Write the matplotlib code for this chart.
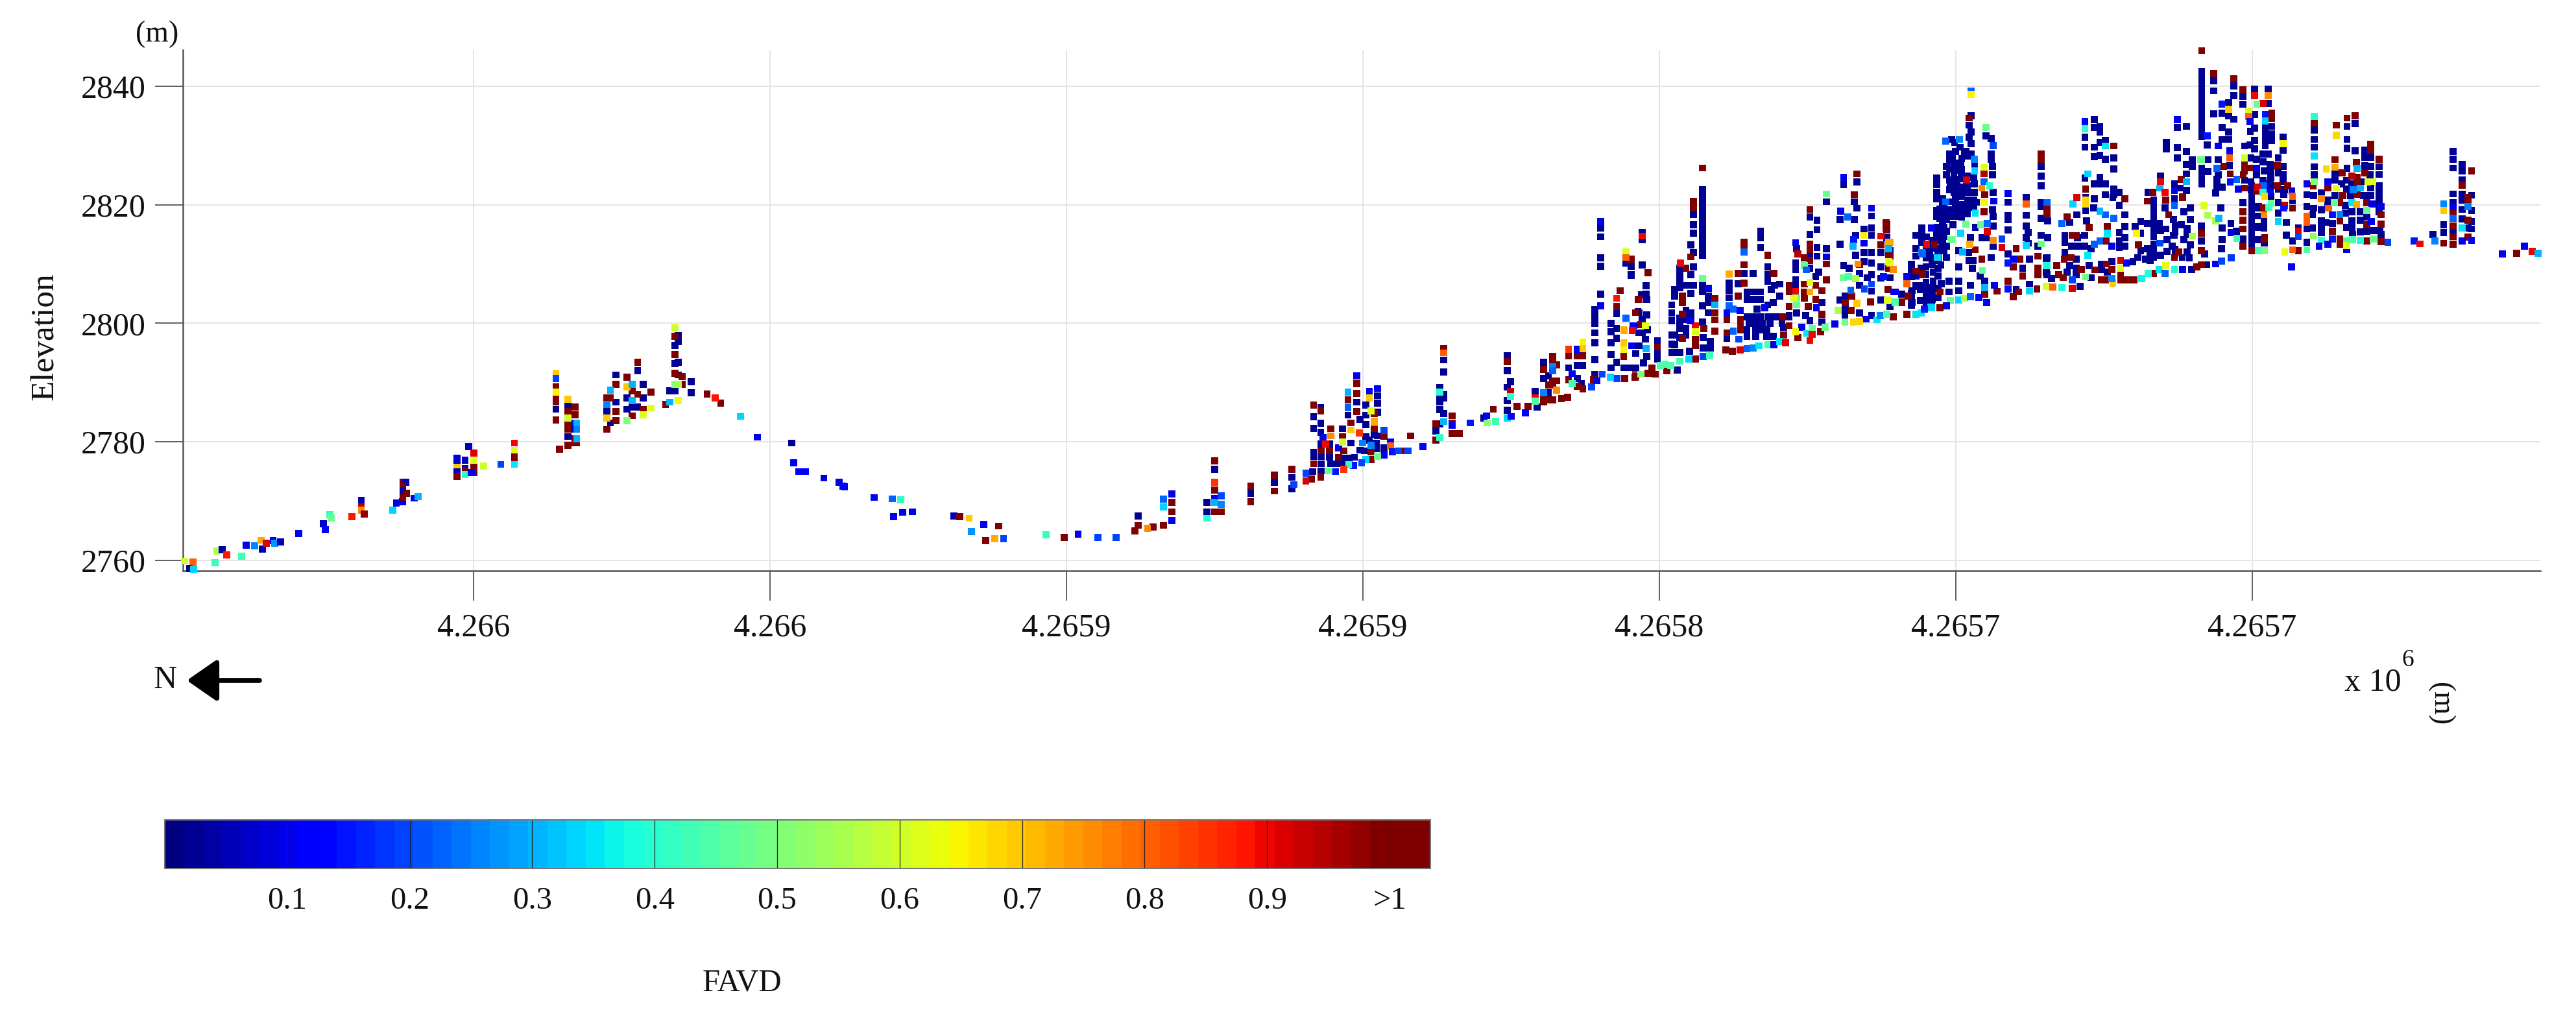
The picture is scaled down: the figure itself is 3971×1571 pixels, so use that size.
# encoding: utf-8
import numpy as np
import matplotlib
matplotlib.use('Agg')
import matplotlib.pyplot as plt

plt.rcParams['font.family'] = ['Liberation Serif', 'DejaVu Serif']

# distance along the transect from its north end (m), elevation (m), FAVD
dist_north = [0.3, 1.7, 1.1, 1.8, 5.4, 5.7, 6.6, 7.4, 9.9, 10.7, 12.1, 13.2, 13.4, 14.1, 15.2, 15.5, 16.5, 19.5, 23.7, 24, 24.8, 25, 28.5,
              30.1, 30.1, 30.1, 30.6, 35.4, 36, 37, 37.1, 37.6, 37.1, 37.1, 37.7, 37.1, 39, 39.7,
              46.2, 46.2, 46.2, 46.2, 46.2, 47.6, 47.6, 47.6, 47.6, 48.2, 49.1, 49.1, 49.1, 49.1, 48.6, 50.7, 53.6, 55.9, 55.9, 55.9, 55.9, 55.9]
elev_north = [2759.9, 2759.7, 2758.6, 2758.5, 2759.6, 2761.6, 2761.8, 2760.9, 2760.7, 2762.6, 2762.5, 2763.4, 2761.9, 2762.9, 2763.3, 2762.9, 2763.1, 2764.5, 2766.2, 2765.2, 2767.7, 2767.2, 2767.4,
              2770.1, 2769, 2768.5, 2767.8, 2768.5, 2769.7, 2769.9, 2773.2, 2773.2, 2772.5, 2771.7, 2771.3, 2770.6, 2770.5, 2770.8,
              2777.2, 2776.3, 2775.7, 2774.9, 2774.2, 2776.9, 2775.5, 2775.2, 2774.5, 2779.2, 2778.1, 2776.8, 2775.7, 2774.8, 2774.8, 2775.9, 2776.2, 2779.8, 2778.6, 2777.5, 2776.5, 2776.2]
favd_north = [.6, .8, .02, .33, .42, .55, .04, .88, .43, .1, .25, .72, .05, .92, .1, .28, .05, .1, .07, .12, .42, .47, .88,
              .05, .95, .75, .98, .33, .08, .1, 1.05, .05, 1.05, .05, 1.05, 1.05, .1, .3,
              .08, .05, .7, .05, 1.05, .05, .05, 1.05, .4, .05, .92, .62, 1.05, 1.05, .1, .6, .2, .9, .62, 1.05, 1.05, .35]

dist_valley = [111.6, 116.6, 119.6, 121.1, 119.9, 121.4, 123, 130, 131, 132.6, 133, 135.1, 137.6, 135.4, 136.9, 138.4, 145.6, 148.6, 151, 154.3, 157.4]
elev_valley = [2772.4, 2770.6, 2770.4, 2770.2, 2767.4, 2768.1, 2768.2, 2767.5, 2767.4, 2767.1, 2764.9, 2766.1, 2765.8, 2763.3, 2763.7, 2763.7, 2764.3, 2763.9, 2764.4, 2763.9, 2763.9]
favd_valley = [.1, .1, .22, .42, .1, .1, .1, .05, 1.05, .7, .28, .1, 1.05, 1.05, .72, .2, .42, 1.05, .1, .2, .2]

# stands of very low FAVD: distance, then the elevations read at that distance
low_stands = [
    (62.9, 2785.5), (64.9, 2786.3, 2780.9), (66.1, 2782.1), (71.5, 2785.1), (72.1, 2783.2), (73, 2791.3, 2786.7), (74.9, 2787.4, 2785.5), (75.8, 2785.9), (76.7, 2792, 2785.9),
    (77.6, 2789.7, 2787.4), (82.1, 2788.6), (83, 2796.3, 2793.2, 2788.6), (83.5, 2797.9, 2796.9, 2793.4, 2791.3), (85.7, 2790.1, 2788.3), (102.7, 2779.8),
    (161.1, 2767.5), (172.7, 2769.8, 2768.2), (174, 2775.4), (180.1, 2771.3), (184.1, 2773.2), (187, 2774, 2772.1),
    (190.7, 2784.2, 2782.3, 2778.2, 2777.6), (191.9, 2785.8, 2783.1, 2781.6), (192, 2779.6, 2777.6, 2776.3, 2775.1), (190.5, 2775), (193.4, 2779.6, 2777.4), (193.6, 2776.3), (194.7, 2776.3),
    (195.6, 2782.2), (195.8, 2776.3), (196, 2777.2), (196.5, 2784.5), (196.7, 2777.2), (197, 2779.8), (197.6, 2777.4), (198, 2786.7), (198.5, 2783.8, 2778.6), (199.3, 2778.5),
    (199.5, 2786.2, 2784.5, 2782.9, 2780.9), (200.1, 2780.3), (200.9, 2781.3), (201.3, 2779.8, 2778.9), (201.5, 2787.8, 2786.5, 2785, 2781), (202.6, 2779),
    (212.6, 2793.8, 2791.8, 2788, 2787.4, 2784.8), (212, 2789.2, 2787.8, 2786.7, 2785.4, 2783), (211.3, 2781.8), (219.4, 2784), (223.4, 2794.5, 2792, 2789.2, 2787, 2785.3), (223.9, 2790.1),
    (228.4, 2785.9), (228.1, 2788.5), (229.5, 2793.4, 2790.7), (230.3, 2791.1, 2788.3), (233.7, 2792.5), (235.2, 2792.9, 2790.7), (236.1, 2792.9), (235.9, 2789.8),
    (238.1, 2802.3, 2801.1, 2800, 2798.4, 2796.7, 2793.9, 2791.4), (239.1, 2816.1, 2814.6, 2811, 2809.6, 2804.9), (240.9, 2800, 2798.6, 2796.7, 2794.7, 2792.5), (241.8, 2801.6, 2799.1, 2797.5, 2793.4),
    (243, 2792.5), (243.4, 2810.1), (244.3, 2809.7, 2809.6, 2808.2, 2808.1), (245.6, 2801.8, 2798.4, 2796.2), (244.5, 2796.2), (245, 2794.9), (244, 2792.5),
    (246.1, 2815.3, 2814.1, 2809.8, 2800.7, 2798.4), (246.8, 2806.3, 2804.9), (246, 2804.8), (246.9, 2804, 2801.4, 2794.4), (245.4, 2802), (244.7, 2799.6), (247, 2798.9), (246.7, 2797.3),
    (245.6, 2796.2), (245, 2792.4), (246.3, 2793.3), (248.7, 2797.1, 2795.1, 2794), (252, 2792.1), (251.1, 2803.1, 2801.7, 2800.4, 2798, 2796.5, 2795.1), (251.6, 2805.7, 2804.6, 2798, 2796.4, 2795.1),
    (252.5, 2809.3, 2808.2, 2807.1, 2806, 2800.9, 2799.8, 2799.1, 2797.6, 2795.1), (253.5, 2806.4, 2802.2, 2801.7, 2800.6, 2799.1, 2798), (254.3, 2813.2, 2808.2, 2806.4, 2805, 2801.7, 2800.6),
    (254.8, 2818.3, 2816.6, 2815.2, 2811.9, 2809.5, 2806.4),
    (256.3, 2822.5, 2821.4, 2820.3, 2819.2, 2818.1, 2817, 2815.9, 2814.8, 2813.7, 2812.6, 2811.5, 2806.4, 2805.3, 2802.9, 2800.2),
    (257.3, 2804.6, 2803.5, 2801.8), (256.4, 2797.6, 2795.8), (257.6, 2796.9, 2795.8), (254.1, 2795.3),
    (260.8, 2806.8, 2805.6, 2804.3), (260.4, 2797.5), (262.3, 2806.7), (263.3, 2808.4), (264.8, 2808.4, 2805.3), (263.8, 2805.2, 2804, 2801.1, 2798.9, 2797.8), (266, 2805.3, 2804, 2801.1, 2798.9),
    (264.9, 2804, 2801.1), (266.1, 2815.5, 2814.4, 2812.8), (267.3, 2809.5, 2808.2, 2807.1, 2803.1, 2801.1), (268.4, 2806.4, 2801.1), (269.3, 2806.6, 2804.6), (267.9, 2805.7), (268.2, 2803.5, 2797.8),
    (265.5, 2802.4), (269.5, 2801.1), (264.2, 2800), (265.3, 2800, 2798.9, 2797.8), (266.4, 2800), (267.7, 2800), (269.7, 2800), (267.1, 2798.9, 2797.8), (270.9, 2801.3), (270, 2799.3),
    (272, 2810.2, 2809.1, 2807.3, 2806.2), (272.2, 2812.6, 2801.7), (270.9, 2801.1), (274.4, 2817.9, 2815, 2811.5, 2809.3, 2800.4), (275.6, 2817.4, 2815.8, 2812.8, 2811.3), (277.2, 2812.6, 2820.5),
    (275.9, 2808.6), (275.4, 2807.9), (276.4, 2803.5, 2800.2), (273.7, 2801.3),
    (280.1, 2823.4, 2809.7), (282.3, 2823.8, 2819.4), (281.9, 2820.5, 2817.5), (279.5, 2817.5, 2813.3, 2803.9), (284.8, 2818.1, 2816.1, 2814.8, 2811.9, 2810.2, 2808.2, 2805.4, 2801.3),
    (283.5, 2815.9, 2811.9, 2810.4), (282.1, 2814.8, 2811.5), (281, 2809.3), (282.8, 2808.4, 2806.4, 2801.7), (284.1, 2807.7), (280.4, 2804.6, 2802.4), (280.3, 2801.3),
    (287.4, 2814.4), (286.4, 2811.9, 2809.5, 2807.6, 2803.9), (287.9, 2812.2, 2807.7, 2802.8), (289.9, 2804.9), (292.3, 2814.8, 2812.6, 2811.3, 2808, 2806.4), (293.3, 2816.1, 2814.8), (294.1, 2814.6),
    (293.4, 2809.3), (291.6, 2805.5, 2803.5), (293, 2805.7, 2803.8), (294.5, 2805.7), (294.9, 2803.8),
    (301.6, 2835, 2832.3, 2830.3, 2828.6), (301.3, 2833.4, 2831.4), (300.7, 2829), (302.2, 2826.6), (298.3, 2831), (298.8, 2830.5), (299.7, 2829.7), (300.5, 2829), (298.4, 2827.9), (297.4, 2826.5, 2825),
    (298.7, 2826.3, 2825, 2822.1), (299.9, 2826.8, 2825), (298.1, 2823.5), (299.2, 2823.5, 2819), (301, 2823.2, 2822.1, 2819.7), (302.1, 2823.5, 2822.1), (299.8, 2822.1), (299, 2820.6), (301.4, 2820.1),
    (302.5, 2820.4), (300.3, 2818.8), (295.8, 2824.5, 2823.4, 2822.1, 2821), (296.3, 2819.3, 2817.7), (297.4, 2817.5, 2815.5, 2813, 2811.1), (298.5, 2816.6), (295.9, 2816.2), (296.5, 2814, 2809.8),
    (294.9, 2816.1), (293.3, 2816, 2813.7), (292.3, 2812.6, 2806.2), (294.6, 2811.9), (290.8, 2807.8), (293.2, 2809.3), (295.2, 2808.6, 2807.1), (293.4, 2806.4), (297.9, 2807.1, 2805.3), (296.6, 2806.7),
    (302.3, 2816.2), (301.5, 2814.4, 2806.4), (299.5, 2812.2, 2809.5, 2807.1, 2805.5), (301.2, 2811.9, 2810.6), (301.9, 2810.6), (301.8, 2809.3), (303.1, 2808), (303.9, 2807.1), (303.4, 2814.4),
    (304.1, 2814.4, 2831.6), (305.3, 2813, 2822.1, 2818, 2816.4), (305, 2811.1, 2831.2, 2828.6, 2827.7), (305.2, 2826.5, 2825, 2819.2),
    (307.8, 2820.4, 2818.2, 2817.5, 2815.7, 2811.7), (310.9, 2821.2, 2818.2, 2816.4, 2814.4), (311.2, 2815.3, 2813.5), (313.4, 2826.5, 2824.8, 2823.2, 2820.3, 2819.7, 2817.7, 2814.8), (314.5, 2817.3, 2814.4),
    (312.9, 2813), (314.4, 2811, 2808.2), (311.4, 2806.6, 2810.8), (310.3, 2809.3), (309.2, 2805.7),
    (320, 2806.2), (314.3, 2810.9, 2808.6), (315.2, 2807.5), (321.8, 2807.7, 2812.6), (323.6, 2810, 2809), (324.6, 2808.6), (325.3, 2810.4), (328.9, 2810.4), (338.8, 2809.1), (341.3, 2809.9), (321.5, 2809.7),
    (319.3, 2810.8, 2809.3, 2808.2), (318.2, 2809.7, 2817), (317.8, 2808.6), (317.4, 2814.8, 2813.7, 2811.9), (318.5, 2813), (319.6, 2813), (320.7, 2813, 2814.8), (319.5, 2814.4),
    (326.6, 2815.3, 2813.9, 2812.8, 2819.9), (327.5, 2816.3, 2814.4, 2813, 2818.3), (322.3, 2819.5), (319.4, 2818.3), (320.9, 2819, 2821.2), (321.1, 2817.3), (325.5, 2821.2),
    (332.4, 2820.8, 2819.7, 2818.6, 2817.7, 2816.8, 2815.7, 2814.6, 2813.3, 2812.2, 2811.1), (331.3, 2816.8, 2812.6), (333.3, 2816.8), (330.2, 2817.2, 2815.2, 2812.2), (329.3, 2816.3), (329.7, 2811.1), (331, 2810.8),
    (335.9, 2821, 2814.8), (334.3, 2819.5), (335.7, 2817.5, 2814.8), (337.5, 2818.8, 2814.1), (338.6, 2819.5, 2817.5, 2813.2), (337, 2816.6), (334.4, 2815.9), (334.6, 2814.1, 2812.1), (335.5, 2813),
    (337.2, 2811.1), (338.4, 2811), (340.4, 2816.4, 2813.9), (341, 2811.7), (343.9, 2816.1, 2814.1), (343.8, 2812.6), (343.7, 2819.5), (345.4, 2816.8), (346.3, 2815.5), (347.4, 2820.3, 2814.2),
    (350, 2819.5, 2818.1, 2816.3), (351, 2816.1, 2817.3, 2813.5),
    (348.9, 2823.2, 2822.1, 2821, 2819.9, 2818.8, 2817.7, 2816.6, 2815.5, 2814.4, 2813.7, 2812.7),
    (340.5, 2842.5, 2841.4, 2840.3, 2839.2, 2838.1, 2837, 2835.9, 2834.8, 2833.7, 2832.6, 2831.5, 2826.1, 2825, 2823.5),
    (342.5, 2840.9, 2839.2, 2835.3), (345.9, 2840, 2838.4, 2834.4), (347.4, 2838.3, 2836.9), (349.4, 2839.5, 2835.2, 2832.9, 2830.8, 2829.4), (345, 2837.2, 2835, 2832.3, 2831),
    (343.9, 2835.4, 2833, 2831, 2823), (348.7, 2832.4), (341.4, 2830.1), (347.7, 2829.9, 2824.1), (348.6, 2830.1), (348.8, 2827.9, 2823.9, 2822.5), (341.5, 2827.6, 2825.6), (343.3, 2827.6, 2825),
    (345.2, 2826.6), (343.1, 2824.3, 2823.2), (342.8, 2822),
    (351.7, 2839.5, 2837.1, 2828.5), (352.3, 2833.2, 2831.9, 2830.8), (351.2, 2832.9, 2831.9, 2830.8, 2829.9), (354.2, 2831.4, 2829.2, 2826.5, 2825, 2823.9), (350.8, 2828.5, 2827.2, 2824.1), (349.7, 2827.7, 2825),
    (353.4, 2827.9, 2825.4, 2822.6, 2820.3, 2818.6), (352, 2826.8, 2823.5), (351, 2825.7, 2816.1), (352.1, 2825.7, 2824.6, 2821.4), (354.5, 2822.5), (354.3, 2821.7), (355.8, 2820.6, 2813.9),
    (350.1, 2819.7, 2818.1, 2816.2), (354.8, 2817, 2814.9), (350, 2814.1), (351.1, 2813.5), (356.8, 2816.1), (358.2, 2821.7, 2819.7, 2815.9, 2813.7), (359.4, 2821.5, 2819.4), (359.2, 2818.3, 2816.1),
    (359.5, 2832.6, 2831, 2829.7, 2826.4, 2825), (360.7, 2822, 2819.1, 2817.3, 2816.2, 2815.3), (361.9, 2820.8), (361.8, 2820.1), (361.5, 2817), (362.5, 2816.8), (363, 2825.2, 2824.1, 2821.5),
    (365, 2833.2, 2831, 2829.5, 2826.1), (366.4, 2833.7, 2829.1), (368, 2829.2, 2828, 2826.6), (369, 2828, 2826.5, 2822.8, 2821.5), (368.9, 2825), (370.4, 2826.4, 2825.1, 2823.2, 2822.1, 2821, 2819.9, 2818.8),
    (367.8, 2823.9, 2821.5), (364.9, 2824.1, 2822.6, 2816.2), (364.1, 2823.5), (365.8, 2823.5, 2818.8, 2817.3, 2816.2), (365.6, 2821.5), (364.7, 2819.9, 2818.6), (367.2, 2818.8, 2817.4, 2815.4),
    (368.3, 2817.9, 2815.5), (369.4, 2815.6), (370.5, 2815.6), (370.7, 2815), (365.9, 2815),
    (379.5, 2815), (381.3, 2816.6, 2815.3), (382.9, 2829, 2827.7, 2826.2, 2821.8, 2820.3, 2815.5), (384.4, 2826.8, 2825.7, 2824.2, 2821.8, 2820.8, 2819.2, 2817.6), (386, 2821.6, 2819, 2817.2, 2815.9),
    (385.4, 2816.1),
]

# upper towers between the 4.2657 ticks and the packed navy core around the first of them
low_towers = [
    (320.8, 2831.4, 2829.7, 2824.5), (322.4, 2834.3, 2833, 2829.7, 2828.1, 2823.5, 2821), (323.3, 2833.2, 2832.3, 2830.5, 2828.3, 2824.6, 2823.5), (324.2, 2830.8, 2827.7, 2823.5, 2821.7),
    (325.7, 2827.9, 2826, 2822.6, 2821.7), (326.6, 2822.1), (334.5, 2830.5, 2829.4), (336.4, 2833, 2829.6, 2827.9), (337.9, 2833.2, 2829, 2826.8, 2825.2, 2822.4), (338.9, 2827.6, 2826.5),
    (333.5, 2824.8), (335.9, 2823.5, 2820.8), (331.5, 2822.1), (336.8, 2822.8), (340.5, 2826.1, 2824.3),
    (298, 2828.5, 2827.3, 2826, 2824.2, 2822.5, 2820.5, 2819.2, 2818), (299, 2829, 2827, 2825.8, 2824.3, 2822.8, 2821.5, 2819.8, 2818), (300, 2827.8, 2825.9, 2824.4, 2823, 2821.4, 2820, 2817.9),
    (301, 2828.2, 2824.8, 2820.8, 2818.5), (302, 2824.6, 2820.8, 2819.6), (296.8, 2821, 2820, 2818.7, 2817.2, 2816, 2814.9, 2813.5, 2812.4), (295.8, 2819, 2818, 2815.2, 2814, 2812.7),
    (297, 2819.5, 2818.4, 2816.2, 2814.6, 2812.2), (294, 2812.5, 2811, 2809.5, 2808.2, 2806.9, 2805.5, 2804.5, 2803.5), (295, 2814, 2812.9, 2811, 2809.9, 2806, 2805, 2804),
    (296, 2811.8, 2810.6, 2809.3, 2808, 2805.9, 2804.3), (291.5, 2810, 2809, 2807.9, 2805, 2804.2, 2803), (338, 2816, 2815, 2812), (336, 2816.5, 2815.5, 2812.5, 2811.7), (333.5, 2815.6, 2811.5),
    (331.8, 2811.7, 2810.6),
]

# stands with FAVD above the colour scale
high_stands = [
    (62.9, 2789.3, 2787.2, 2786.7, 2783.7), (63.5, 2778.8), (64.9, 2785.1, 2782.8, 2782.1, 2779.4), (66.1, 2785.9, 2784.6, 2780.5, 2779.8), (66.4, 2779.8), (71.5, 2787.4, 2782.1), (72.1, 2787.4),
    (73, 2789.7, 2785.1, 2783.6), (74.9, 2790.9), (75.8, 2788.6, 2784.4), (76.7, 2793.4, 2788), (77.6, 2785.5), (78.9, 2788.4), (81.4, 2786.3), (83, 2797.8, 2794.7, 2791.6), (84.2, 2791, 2789.7),
    (88.4, 2788.1), (90.7, 2786.5),
    (160.6, 2765), (161.1, 2765.9), (163.6, 2765.6), (165.4, 2765.9), (166.8, 2769.8, 2768.2), (174, 2776.8, 2771.9, 2768.2), (175.1, 2768.2), (180.1, 2772.5, 2769.9), (184.1, 2774.4, 2771.7), (187, 2775.4),
    (190.7, 2786.2, 2776.3), (191.9, 2785.2, 2774.1), (192, 2778.5), (193.6, 2782.2), (193.4, 2778.5), (194.9, 2777.4), (195.6, 2780.9), (195.8, 2778.5), (196.5, 2787.1), (197, 2783.2),
    (198, 2789.8, 2788.2, 2785.1), (200.4, 2778.3, 2777), (200.9, 2784.8, 2782.2), (202.6, 2780.9), (205.7, 2778.5), (207.1, 2781), (190.3, 2773.7),
    (211.3, 2783, 2780.3), (212.6, 2795.7), (214.1, 2784.4, 2783.2, 2781.4), (215.3, 2781.4), (221, 2785.5), (223.4, 2793.5), (225, 2786), (226.9, 2786), (229.5, 2792.2, 2787.2, 2786.7),
    (230.3, 2789.6, 2787.1), (231, 2794.4, 2793.4, 2790.3, 2789.6, 2787.1), (231.7, 2793, 2790.3), (232.5, 2787.3), (233.5, 2787.5), (233.7, 2794.5, 2790.5), (235.2, 2794.5, 2789.4),
    (236.1, 2794.5, 2788.9), (237.9, 2790.5), (242.4, 2805.5), (241.8, 2802.8), (244.3, 2810.8, 2810.7), (243, 2796.7, 2794.4), (245.6, 2804), (245, 2791.1),
    (247.1, 2808.5, 2791.6), (245.5, 2804), (245, 2801.8), (245.9, 2799.8), (248.7, 2796), (247.8, 2792.5), (248.3, 2791.4), (244.9, 2790.9), (243.2, 2790.7), (250.3, 2792),
    (252.9, 2804.6, 2803.5, 2801.5, 2797.5), (253.5, 2809.3), (254.3, 2811.2), (254.8, 2820.6, 2819.5), (256.3, 2826.2), (258.4, 2804.2, 2801.8, 2800.6, 2798.7), (256.5, 2799.1), (255.1, 2797.3, 2796.2, 2794),
    (260.4, 2800.6, 2798.4), (260.2, 2795.5), (261.3, 2795.3), (262.3, 2808.4, 2804.6), (263.3, 2813.7, 2812.8, 2809.9, 2806.8), (267.3, 2811.5), (268.3, 2808.4), (262.7, 2800.7, 2800, 2798.9),
    (269.9, 2801.1), (270.9, 2799.6, 2806.4, 2805.3, 2802.8), (270, 2798), (272.4, 2797.6), (274.4, 2819.2, 2813.3, 2812.4, 2810.6), (273.5, 2811, 2806.6, 2805.3, 2804.2), (277.2, 2810, 2807.3),
    (275.4, 2806.4, 2804), (276.4, 2805.5, 2801.5), (274.1, 2802.8), (276.2, 2798.6),
    (282.3, 2825.2), (281.9, 2821.7), (282.8, 2809.9), (281.5, 2804.6), (280.4, 2803.5), (284.6, 2803.6), (281.4, 2802.2),
    (287.4, 2816.6, 2815.7), (286.4, 2813.2), (287.9, 2811.3, 2809.3), (287.6, 2805.7), (288.5, 2801.1), (290.8, 2806.8, 2801.5), (291, 2804.6, 2804.6), (289.9, 2803.5, 2803.6), (293.4, 2808.4, 2808.2),
    (301.3, 2834.6), (287.3, 2817, 2816.1), (295.4, 2813.3), (292.3, 2808.8), (296.3, 2805.3, 2802.6), (287.7, 2811.5, 2809.3), (302.3, 2812.4), (303.4, 2810.8), (303.9, 2821.7, 2804.9), (303.8, 2818.8),
    (306, 2805.4), (313.4, 2828.6, 2827.7), (314.4, 2819.3, 2818.4), (312.9, 2811.3, 2809.3, 2808.2), (312.7, 2805.8), (308.7, 2809.5, 2804.5), (309.8, 2810.8), (309.2, 2812.6), (310.3, 2808),
    (307.8, 2807.1), (309.6, 2805.3),
    (339.7, 2809.5), (340.4, 2809.9, 2815.2, 2812.2), (332.4, 2808.4), (323.6, 2807.3), (324.2, 2807.3), (326.9, 2807.3), (328, 2807.3), (329.1, 2807.3), (322.5, 2809), (324.4, 2810, 2813.9),
    (325.3, 2809.1), (326.8, 2808.4), (320.2, 2809.1), (318.4, 2811.1), (317.3, 2810.8), (316.4, 2808.2), (316, 2809.7), (317.1, 2807.7), (318.7, 2814.8), (319.3, 2814.8), (321.5, 2816.2), (317.8, 2817.9),
    (324.6, 2816.3), (331.3, 2820.6), (329.8, 2813.2), (334.4, 2820.8), (337.3, 2821.2), (334.9, 2818.3), (336.6, 2812), (335.9, 2811.1), (347.4, 2818.8, 2817.4, 2815.9, 2813), (348.9, 2812.2),
    (351, 2814.2), (350.9, 2819.5),
    (340.5, 2846), (342.5, 2842.1), (345.9, 2841.2), (347.4, 2839.4), (347.7, 2826.8, 2825.7, 2822.8), (348.7, 2826.2), (344.2, 2826.5), (345.3, 2825.2), (347.5, 2825),
    (352.3, 2835.4, 2834.5), (353.2, 2826.6, 2823.2), (355, 2823.2), (349.7, 2822.3), (350.9, 2819.5), (351.1, 2814.4), (355.8, 2819.4), (356.8, 2812.2), (359.3, 2823.2), (359.5, 2833.8), (361.8, 2822.8),
    (362.5, 2815.5), (363, 2827.6), (363.2, 2833.4), (364.2, 2825.4), (365, 2834.6), (366.4, 2835), (366.6, 2827.1), (366.7, 2824.6, 2823.7, 2821.7), (369, 2830.2, 2829.2), (368, 2825.4), (370.4, 2827.7),
    (364.3, 2821.5), (363.8, 2820.3, 2817.3, 2814.2, 2813.3), (368.3, 2820.3, 2816.6, 2813.9), (370.7, 2818.3, 2816.7, 2813.8), (381.3, 2813.5), (386, 2825.7), (385.4, 2821.2, 2820.4, 2817.4, 2814.5),
    (382.9, 2818.6, 2816.4, 2814.6, 2813.3), (384.4, 2823.3), (393.6, 2811.8),
    (320.9, 2822.6), (325.7, 2829.9), (327.5, 2821), (337, 2824.3), (332.2, 2822.1), (337.2, 2821.3),
]

# everything in between: distance, elevation, FAVD
mid_marks = [
    (62.9, 2791.6, .7), (62.9, 2790.7, .2), (62.9, 2788.4, .65), (64.9, 2787.2, .7), (64.9, 2784, .6), (66.1, 2783.2, .1), (66.4, 2783.2, .3), (66.4, 2782.1, .25), (66.4, 2780.5, .3), (71.5, 2786.3, .25),
    (71.5, 2784, .7), (72.1, 2788.7, .3), (74.9, 2789.3, .7), (74.9, 2783.6, .5), (75.8, 2789.7, .3), (75.8, 2787, .3), (77.6, 2784.6, .62), (78.9, 2785.7, .62), (82.1, 2786.7, .3), (83, 2799.2, .6),
    (83, 2789.7, .5), (83.5, 2789.7, .55), (83.5, 2787, .63), (89.8, 2787.4, .88), (94, 2784.3, .33), (96.9, 2780.8, .1), (103, 2776.5, .1), (103.9, 2775, .12), (105, 2775, .12), (108.1, 2773.9, .08),
    (110.7, 2773.2, .08), (111.3, 2772.5, .12),
    (162.7, 2765.4, .75), (165.4, 2770.3, .22), (165.4, 2769, .33), (166.8, 2771.2, .1), (166.8, 2766.7, .1), (172.7, 2767.1, .4), (174, 2773.2, .85), (174, 2770.5, .1), (174, 2769.8, .3), (175.1, 2770.9, .2),
    (175.1, 2769.5, .25), (187.4, 2772.8, .2),
    (192.3, 2780.7, .1), (192.7, 2779.6, .9), (193.6, 2781, .75), (194.9, 2779, .1), (195.6, 2780, .6), (196.5, 2788.4, .3), (196.5, 2785.8, .22), (197, 2782, .7), (198, 2791.1, .08), (198.4, 2781.5, .85),
    (199, 2779.8, .25), (200.1, 2788.5, .1), (200.1, 2787.4, .7), (200.4, 2785.2, .62), (200.9, 2783.5, .72), (200.4, 2779.4, .25), (201.5, 2789, .1), (202.6, 2781.9, .2), (203.7, 2780, .1), (203.7, 2779.3, .8),
    (202.6, 2777.8, .1), (201.5, 2777.6, .47), (199.5, 2777, .33), (198.8, 2776.5, .2), (197.4, 2776, .15), (196.6, 2776.1, .42), (195.8, 2775.4, .85), (194.4, 2775, .15), (193.3, 2775.1, .47),
    (189.4, 2774.7, .2), (189.4, 2773.4, .92), (204, 2778.3, .15), (205, 2778.5, .2), (206.6, 2778.5, .2), (209.1, 2779.2, .12),
    (212.6, 2795, .8), (212.6, 2783.4, .3), (212, 2788.4, .4), (212, 2780.7, .42), (214.1, 2782.8, .1), (217.1, 2783.2, .15), (219.9, 2784.4, .1), (220, 2783.2, .5), (221.4, 2783.5, .43), (223.9, 2788.5, .95),
    (223.9, 2787.6, .4), (223.4, 2784, .33), (224, 2784.3, .1), (226.4, 2784.9, .1), (228.1, 2787.4, .9), (228.1, 2786.9, .45), (229.5, 2788.3, .25), (231, 2792.7, .25), (231, 2792, .22), (231.7, 2788.7, .75),
    (233.7, 2795.6, .85), (234.3, 2791.5, .1), (234.3, 2789.8, .43), (235.2, 2795.6, .1), (236.1, 2796.8, .65), (236.1, 2795.7, .7), (237.6, 2789.3, .2), (238.5, 2790.3, .1), (239.4, 2791.4, .2),
    (239.1, 2817.2, .1), (239.1, 2802.9, .1), (243.4, 2812, .62), (243.4, 2811.1, .8), (241.8, 2804.2, .88), (243.4, 2800.9, .22), (243, 2798.9, .72), (243, 2795.6, .65), (244.6, 2799.6, .1),
    (241.8, 2790.7, .25), (244.4, 2796.2, .1),
    (244.5, 2798.8, .9), (243.1, 2798.8, .72), (243, 2796.7, .7), (246.8, 2795.7, .3), (246.7, 2799.6, .62), (246.1, 2814.7, .9), (245.9, 2791.4, .5), (241.9, 2790.7, .2), (240.8, 2790.9, .33), (249.2, 2792.9, .45),
    (250, 2793.1, .45), (250.9, 2792.9, .45), (252.5, 2793.6, .43), (254, 2794, .33), (252.6, 2810.2, .9), (256.3, 2807.5, .47), (257.3, 2805.9, .1), (258.4, 2803.1, .3), (255.1, 2799.6, .9), (255.1, 2798.6, .62),
    (256.4, 2794.4, .2), (257.5, 2794.5, .43), (254.2, 2800.4, .1),
    (260.8, 2808.3, .72), (260.8, 2802.9, .22), (261.5, 2802.4, .22), (262.6, 2802.2, .1), (260.4, 2801.7, .1), (262.6, 2795.5, .92), (263.8, 2795.7, .22), (264.8, 2795.8, .25), (265.8, 2796.2, .35),
    (267.3, 2796.4, .45), (268.3, 2796.4, .1), (269.3, 2796.9, .35), (270.3, 2796.7, .92), (263.3, 2812, .22), (266.8, 2802.6, .1), (261.5, 2798.7, .22), (262.4, 2797.3, .2),
    (272, 2813.6, .1), (272.4, 2811.7, .95), (272, 2805.4, .9), (272.2, 2804.3, .47), (271.7, 2804.2, .62), (272.2, 2803.1, .47), (273, 2799.3, .1), (272, 2798.6, .65), (273.9, 2798.3, .35), (273.5, 2809.7, .47),
    (273.8, 2809, .22), (277.2, 2811.2, .1), (274.4, 2806.9, .62), (274.4, 2805.3, .72), (275.5, 2802.6, .1), (277, 2799.3, .47), (274.8, 2799.1, .47), (274.8, 2798.1, .9), (274.4, 2797.1, .9),
    (277.2, 2821.8, .47), (278.6, 2799.9, .1),
    (280.1, 2824.6, .1), (284.8, 2819.4, .1), (279.6, 2818.9, .1), (280.8, 2817.9, .22), (283.5, 2814.8, .65), (281.8, 2814.1, .15), (283.5, 2813.5, .1), (281.7, 2813, .3), (282.5, 2810, .75), (280, 2807.7, .47),
    (280.9, 2807.9, .43), (282.1, 2807.5, .55), (284.8, 2806.6, .2), (283.6, 2805.8, .2), (281.3, 2805.6, .22), (282.3, 2803.4, .7), (279.2, 2802.2, .55), (283.9, 2800.7, .1), (285.7, 2800.6, .35),
    (286.3, 2801.3, .25), (280.3, 2800.2, .47), (281.8, 2800.2, .68), (282.8, 2800.3, .68),
    (286.4, 2814.7, .9), (287.9, 2813.7, .72), (287.9, 2810.2, .65), (286.8, 2807.9, .15), (288.5, 2809.1, .75), (287.6, 2803.9, .62), (288.8, 2805.3, .1), (288.8, 2803.5, .47), (287.4, 2801.5, .43),
    (290.8, 2807.9, .1), (294.9, 2816.1, .1), (293.3, 2811.9, .25), (294.1, 2813.3, .9), (292.3, 2801.5, .35), (293.2, 2801.7, .35), (294.9, 2802.6, .35),
    (301.6, 2839.2, .22), (301.6, 2838.6, .65), (302.1, 2827.7, .25), (302.2, 2825.7, .33), (299.6, 2831, .25), (297.3, 2830.7, .22), (300.8, 2824.2, .92), (302.3, 2818.6, .35), (297.3, 2820.5, .22),
    (293.4, 2811.7, .22), (295.9, 2811.1, .33), (290.8, 2806.7, .8), (288.6, 2805.3, .1), (288.8, 2803.6, .45), (287.5, 2803.8, .62), (298.1, 2803.8, .47), (294.8, 2802.7, .33), (297.4, 2802.9, .1),
    (293.7, 2802.4, .15), (287.7, 2813.7, .72), (287.7, 2812.6, .3), (287.7, 2810.4, .62),
    (298.3, 2814.1, .47), (299.8, 2815.2, .33), (300.7, 2816.7, .47), (303.2, 2816.6, .47), (301.4, 2813.3, .72), (300.2, 2812, .3), (303.5, 2808.9, .47), (299.5, 2803.9, .33), (300.5, 2804.2, .55),
    (301.5, 2804.5, .22), (302.9, 2804.4, .1), (304.2, 2803.5, .1), (303.9, 2806, .3), (305.5, 2806.4, .1), (304.3, 2816.8, .22), (304.3, 2815.5, .92), (305.3, 2814, .75), (306.8, 2814.2, .2), (306.8, 2812.8, .92),
    (303.8, 2826.3, .62), (303.8, 2825.2, .95), (303.8, 2823.9, .22), (304.7, 2823.2, .4), (303.4, 2822.8, .75), (303.8, 2820.4, .65),
    (304.1, 2833, .47), (305.3, 2830, .2), (305.4, 2820.6, .1), (307.8, 2821.9, .1), (310.9, 2820.1, .8), (310.9, 2813.1, .33), (314.4, 2820.4, .22), (313.4, 2813.4, .47), (314.4, 2809.7, .4), (311.4, 2805.4, .33),
    (308.7, 2810.8, .1), (307.8, 2810.2, .15), (307.8, 2805.8, .15),
    (314.3, 2806.2, .62), (315.4, 2806.1, .8), (316.9, 2806, .38), (318.7, 2805.9, .92), (318.7, 2807.3, .2), (320.9, 2807.8, .47), (314.3, 2809.7, .38), (325.5, 2806.8, .7), (325.3, 2807.5, .25),
    (326.8, 2810.6, .92), (326.8, 2809.3, .62), (330.4, 2807.5, .37), (327.8, 2810.2, .1), (331.5, 2808.4, .38), (333.3, 2809.1, .35), (334.4, 2809.7, .62), (334.3, 2808.4, .22), (335.9, 2809.1, .38),
    (337.3, 2809.1, .08), (342.8, 2810, .1), (343.8, 2810.5, .2), (345.5, 2811, .18), (325.3, 2813, .1), (323.3, 2813.9, .22), (322.4, 2813.3, .22), (321.3, 2811.5, .35), (316.9, 2816.8, .22), (324.6, 2815.2, .35),
    (325.7, 2817.7, .22), (324.2, 2818.3, .22), (323.3, 2818.9, .3), (318.8, 2820.1, .33), (319.4, 2821.2, .92), (320.9, 2820.1, .68), (329.5, 2815.2, .65), (333.4, 2813.5, .2), (340.9, 2819.9, .62),
    (341.5, 2818.2, .55), (342.8, 2817.3, .55), (343.4, 2817.7, .3), (345.4, 2815.3, .1), (346.4, 2814.3, .43), (338.9, 2814.7, .55), (335.9, 2819.9, .22), (350, 2812.2, .45), (351, 2812.2, .55), (351, 2818.3, .75),
    (349.4, 2838.4, .9), (343.9, 2837, .15), (345, 2836.1, .7), (348.4, 2835.8, .62), (348.4, 2834.9, .8), (348.6, 2834, .1), (341.4, 2831.6, .15), (343.3, 2829.9, .1), (345.2, 2829.1, .1), (347.7, 2827.9, .6),
    (340.3, 2827.6, .47), (345.2, 2827.9, .8), (343.1, 2826.1, .22), (346.4, 2824.3, .22), (345.3, 2823.8, .15), (346.7, 2822.6, .1),
    (351.7, 2838.4, .75), (350.8, 2837.1, .92), (349.8, 2836.9, .47), (351.2, 2835.2, .15), (351.2, 2834.1, .33), (354.2, 2830.3, .65), (349.7, 2826.1, .1), (350.9, 2823.2, .22), (349.9, 2823, .92),
    (350.8, 2822.1, .38), (352, 2822.3, .1), (351.1, 2821.4, .68), (355.7, 2822.3, .1), (355.8, 2821.4, .8), (354.5, 2819.9, .95), (352.2, 2820.2, .47), (351.8, 2819.6, .43), (351, 2818.3, .75), (350, 2812.2, .43),
    (351.1, 2812.2, .5), (353.4, 2817.2, .33), (354.3, 2819.4, .15), (354.5, 2812, .64), (355.6, 2809.5, .1), (356.8, 2815.5, .92), (356.8, 2814.6, .2), (355.8, 2812.4, .8), (358.2, 2823.5, .1), (358.2, 2818.1, .8),
    (358.2, 2817, .8), (358.2, 2812.4, .45), (359.3, 2814.7, .53),
    (359.5, 2834.9, .4), (359.5, 2828.2, .35), (359.5, 2823.9, .5), (360.7, 2821, .75), (361.8, 2823.9, .1), (361.9, 2819.4, .8), (362.5, 2818.3, .15), (362.5, 2814.2, .15), (360.7, 2814, .4), (360.3, 2813, .1),
    (361.8, 2813.3, .1), (361.5, 2826, .68), (363, 2826.3, .72), (363.2, 2822.8, .62), (363.2, 2831.7, .68), (365.8, 2824.8, .95), (366.7, 2826.1, .3), (368.5, 2823.8, .62), (369.3, 2823.9, .62), (366, 2822.5, .25),
    (367.2, 2822.8, .3), (362.9, 2820.3, .47), (365.8, 2820.3, .35), (366.6, 2820, .72), (369.2, 2820.1, .1), (370.7, 2819.7, .1), (368.3, 2819, .48), (363.8, 2818.4, .25), (369.1, 2817.2, .1), (364.9, 2813.9, .43),
    (365.9, 2814.1, .45), (367.2, 2814, .38), (369.4, 2814.2, .47), (371.9, 2813.7, .2), (364.9, 2812.4, .1), (364.9, 2813.1, .62),
    (376.3, 2813.9, .15), (377.3, 2813.4, .9), (379.8, 2813.9, .25), (381.3, 2820.1, .25), (381.3, 2819, .7), (382.9, 2819.7, .1), (382.9, 2817.7, .22), (384.4, 2816.1, .35), (385.4, 2819.7, .25),
    (384.4, 2813.9, .1), (386, 2814, .1), (391.2, 2811.7, .1), (394.9, 2813, .1), (396.2, 2812.1, .9), (397.2, 2811.8, .3),
    (320.8, 2834, .12), (320.8, 2832.8, .4), (321.3, 2825.2, .33), (320.9, 2820.8, .68), (324.2, 2829.9, .35), (336.4, 2834.3, .1), (337.9, 2823.9, .3), (333.5, 2823.9, .9), (333.4, 2822.8, .3),
    (335.9, 2822.4, .1), (334.3, 2822.1, .9), (340.5, 2827.6, .47),
]

favd_low = 0.03
favd_high = 1.05

x_tick_north = [4.26600, 4.26595, 4.26590, 4.26585, 4.26580, 4.26575, 4.26570]
x_tick_labels = ['4.266', '4.266', '4.2659', '4.2659', '4.2658', '4.2657', '4.2657']
y_ticks = [2760, 2780, 2800, 2820, 2840]
favd_ticks = [.1, .2, .3, .4, .5, .6, .7, .8, .9, 1]
favd_labels = ['0.1', '0.2', '0.3', '0.4', '0.5', '0.6', '0.7', '0.8', '0.9', '>1']

W, H = 3971, 1571
def fx(px):
    return px / W
def fy(py):
    return 1 - py / H

def expand(stands, value):
    d, e = [], []
    for stand in stands:
        for elevation in stand[1:]:
            d.append(stand[0])
            e.append(elevation)
    return d, e, [value] * len(d)

low_d, low_e, low_f = expand(low_stands + low_towers, favd_low)
high_d, high_e, high_f = expand(high_stands, favd_high)
mid_d, mid_e, mid_f = zip(*mid_marks)

# low first so that the rarer classes stay visible on top
dist = np.concatenate([low_d, dist_north, dist_valley, high_d, mid_d])
elev = np.concatenate([low_e, elev_north, elev_valley, high_e, mid_e])
favd = np.concatenate([low_f, favd_north, favd_valley, high_f, mid_f])
# the transect starts 49 m north of the 4.2660 tick
north = (4266049 - dist) / 1e6

cmap = plt.get_cmap('jet', 64).copy()
cmap.set_over('#7f0000')

fig = plt.figure(figsize=(W / 100, H / 100), dpi=100, facecolor='white')
ax = fig.add_axes([fx(282), fy(880), fx(3916) - fx(282), fy(77) - fy(880)])
sc = ax.scatter(north, elev, c=favd, s=60, marker='s', linewidths=0, cmap=cmap, vmin=0, vmax=1, zorder=3, clip_on=False)
ax.set_xlim(4.266049, 4.266049 - 397.6e-6)
ax.set_ylim(2758.25, 2846.1)
ax.set_xticks(x_tick_north)
ax.set_xticklabels(x_tick_labels)
ax.set_yticks(y_ticks)
ax.grid(True, color='#e4e4e4', lw=1.4)
ax.set_axisbelow(True)
ax.tick_params(axis='x', length=33, width=1.2, color='#444444', pad=14, labelsize=36, labelcolor='#111111')
ax.tick_params(axis='y', length=31, width=1.2, color='#444444', pad=10, labelsize=36, labelcolor='#111111')
for s in ['top', 'right']:
    ax.spines[s].set_visible(False)
for s in ['left', 'bottom']:
    ax.spines[s].set_color('#555555')
    ax.spines[s].set_linewidth(1.8)

fig.text(fx(242), fy(53), '(m)', fontsize=33, ha='center', va='center', color='#111111')
fig.text(fx(69), fy(519), 'Elevation', fontsize=37, rotation=90, ha='center', va='center', color='#111111')
fig.text(fx(255), fy(1049), 'N', fontsize=36, ha='center', va='center', color='#111111')
ax.annotate('', xy=(fx(288), fy(1049)), xytext=(fx(400), fy(1049)), xycoords='figure fraction', textcoords='figure fraction',
            arrowprops=dict(arrowstyle='-|>,head_length=0.75,head_width=0.52', lw=5.5, color='black', mutation_scale=38, shrinkA=0, shrinkB=0))
fig.text(fx(3614), fy(1052), 'x 10', fontsize=36, ha='left', va='center', color='#111111')
fig.text(fx(3712), fy(1018), '6', fontsize=27, ha='center', va='center', color='#111111')
fig.text(fx(3762), fy(1085), '(m)', fontsize=33, rotation=270, ha='center', va='center', color='#111111')

cax = fig.add_axes([fx(254), fy(1339), fx(2205) - fx(254), fy(1264) - fy(1339)])
cb = fig.colorbar(sc, cax=cax, orientation='horizontal', extend='max', extendrect=True, extendfrac=63 / 1888, ticks=favd_ticks)
cb.ax.set_xticklabels(favd_labels)
cb.ax.tick_params(axis='x', direction='in', length=54, width=0.9, color='#222222', pad=20, labelsize=35, labelcolor='#111111')
cb.ax.tick_params(axis='x', which='minor', length=0)
cb.outline.set_edgecolor('#777777')
cb.outline.set_linewidth(1.5)
fig.text(fx(1144), fy(1516), 'FAVD', fontsize=35, ha='center', va='center', color='#111111')

fig.savefig('out.png', dpi=100, facecolor='white')
